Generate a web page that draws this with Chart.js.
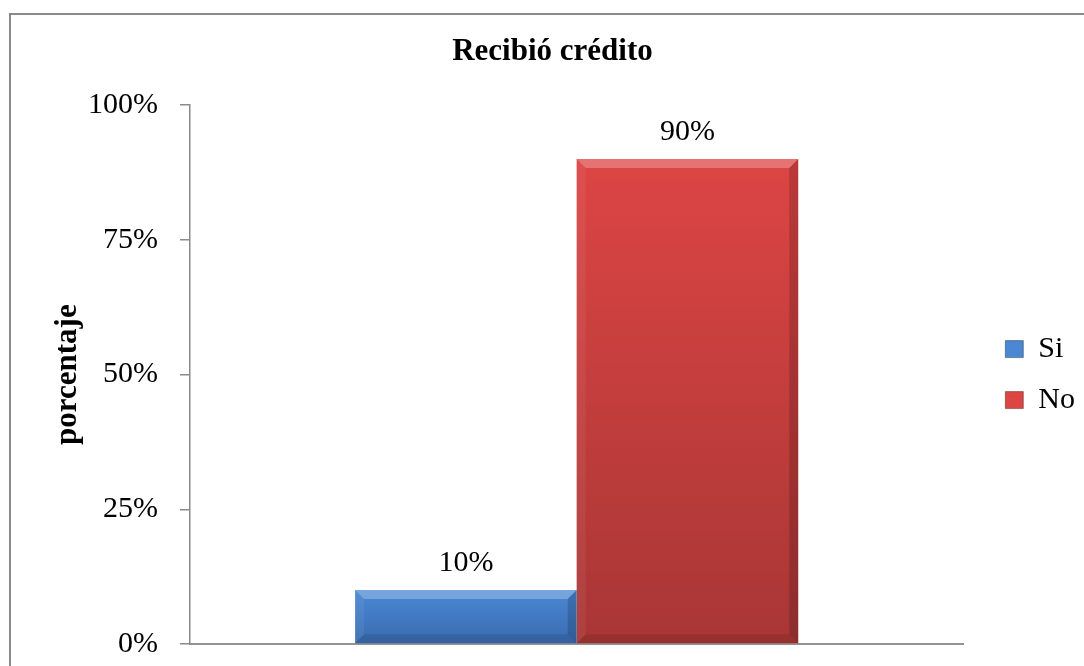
<!DOCTYPE html>
<html>
<head>
<meta charset="utf-8">
<title>Recibió crédito</title>
<script src="https://cdn.jsdelivr.net/npm/chart.js@4.4.1/dist/chart.umd.min.js"></script>
<style>
  html, body { margin: 0; padding: 0; background: #fff; overflow: hidden; }
  canvas { display: block; }
</style>
</head>
<body>
<canvas id="myChart" width="1084" height="666"></canvas>
<script>
// datos del grafico
var categorias = [''];
var serieSi = [10];
var serieNo = [90];
var nombresSeries = ['Si', 'No'];
var ticksY = [0, 25, 50, 75, 100];

// colores (arriba / abajo del degradado)
var colorSi = ['#4a88d4', '#3a6bb0'];
var colorNo = ['#dc4544', '#a83635'];
var FONT = '"Liberation Serif", "Times New Roman", serif';

function degradado(colores) {
    return function (context) {
        var chart = context.chart;
        var y = chart.scales.y;
        if (!y || !chart.chartArea || context.parsed == null) return colores[0];
        var top = y.getPixelForValue(context.parsed.y);
        var bottom = y.getPixelForValue(0);
        var g = chart.ctx.createLinearGradient(0, top, 0, bottom);
        g.addColorStop(0, colores[0]);
        g.addColorStop(1, colores[1]);
        return g;
    };
}

// marco exterior gris
var marco = {
    id: 'marco',
    beforeDraw: function (chart) {
        var ctx = chart.ctx;
        ctx.save();
        ctx.fillStyle = '#fff';
        ctx.fillRect(0, 0, chart.width, chart.height);
        ctx.strokeStyle = '#8a8a8a';
        ctx.lineWidth = 2;
        ctx.beginPath();
        ctx.moveTo(10, chart.height);
        ctx.lineTo(10, 14);
        ctx.lineTo(chart.width, 14);
        ctx.stroke();
        ctx.restore();
    }
};

// bisel y etiquetas de valor sobre las barras
var biselEtiquetas = {
    id: 'biselEtiquetas',
    afterDatasetsDraw: function (chart) {
        var ctx = chart.ctx;
        chart.data.datasets.forEach(function (ds, i) {
            var meta = chart.getDatasetMeta(i);
            meta.data.forEach(function (bar, j) {
                var l = bar.x - bar.width / 2, r = bar.x + bar.width / 2;
                var t = bar.y, b = bar.base;
                var d = Math.min(9, (b - t) / 3);
                ctx.save();
                ctx.fillStyle = 'rgba(255,255,255,0.25)';
                ctx.beginPath();
                ctx.moveTo(l, t); ctx.lineTo(r, t); ctx.lineTo(r - d, t + d); ctx.lineTo(l + d, t + d);
                ctx.closePath(); ctx.fill();
                ctx.fillStyle = 'rgba(255,255,255,0.06)';
                ctx.beginPath();
                ctx.moveTo(l, t); ctx.lineTo(l + d, t + d); ctx.lineTo(l + d, b - d); ctx.lineTo(l, b);
                ctx.closePath(); ctx.fill();
                ctx.fillStyle = 'rgba(0,0,0,0.16)';
                ctx.beginPath();
                ctx.moveTo(r, t); ctx.lineTo(r - d, t + d); ctx.lineTo(r - d, b - d); ctx.lineTo(r, b);
                ctx.closePath(); ctx.fill();
                ctx.fillStyle = 'rgba(0,0,0,0.10)';
                ctx.beginPath();
                ctx.moveTo(l, b); ctx.lineTo(l + d, b - d); ctx.lineTo(r - d, b - d); ctx.lineTo(r, b);
                ctx.closePath(); ctx.fill();
                // etiqueta
                ctx.fillStyle = '#000';
                ctx.font = '30px ' + FONT;
                ctx.textAlign = 'center';
                ctx.textBaseline = 'middle';
                ctx.fillText(ds.data[j] + '%', bar.x, t - 27);
                ctx.restore();
            });
        });
    }
};

Chart.defaults.color = '#000';
Chart.defaults.font.family = FONT;

var ctx = document.getElementById('myChart').getContext('2d');
var myChart = new Chart(ctx, {
    type: 'bar',
    data: {
        labels: categorias,
        datasets: [{
            label: nombresSeries[0],
            data: serieSi,
            backgroundColor: degradado(colorSi),
            borderWidth: 0
        }, {
            label: nombresSeries[1],
            data: serieNo,
            backgroundColor: degradado(colorNo),
            borderWidth: 0
        }]
    },
    options: {
        responsive: false,
        animation: false,
        devicePixelRatio: 1,
        layout: { padding: { left: 20, right: -1, top: 0, bottom: 0 } },
        datasets: {
            bar: { categoryPercentage: 0.573, barPercentage: 1 }
        },
        plugins: {
            title: {
                display: true,
                text: 'Recibió crédito',
                font: { size: 31, weight: 'bold', family: FONT },
                color: '#000',
                padding: { top: 33, bottom: 35 }
            },
            legend: {
                position: 'right',
                fullSize: false,
                labels: {
                    font: { size: 30, family: FONT },
                    boxWidth: 18,
                    boxHeight: 17,
                    padding: 21,
                    generateLabels: function (chart) {
                        var items = Chart.defaults.plugins.legend.labels.generateLabels(chart);
                        var cols = [colorSi[0], colorNo[0]];
                        items.forEach(function (it, i) {
                            it.fillStyle = cols[i];
                            it.strokeStyle = 'rgba(0,0,0,0.35)';
                            it.lineWidth = 1;
                        });
                        return items;
                    }
                }
            },
            tooltip: { enabled: false }
        },
        scales: {
            x: {
                ticks: { display: false },
                grid: { display: false },
                border: { display: true, color: '#939393', width: 2 },
                afterFit: function (scale) { scale.height = 22; }
            },
            y: {
                min: ticksY[0],
                max: ticksY[ticksY.length - 1],
                afterBuildTicks: function (scale) {
                    scale.ticks = ticksY.map(function (v) { return { value: v }; });
                },
                ticks: {
                    font: { size: 30, family: FONT },
                    color: '#000',
                    padding: 22,
                    callback: function (v) { return v + '%'; }
                },
                grid: {
                    drawOnChartArea: false,
                    drawTicks: true,
                    tickLength: 10,
                    color: '#8a8a8a',
                    lineWidth: 1.5
                },
                border: { display: true, color: '#8a8a8a', width: 1.5 },
                title: {
                    display: true,
                    text: 'porcentaje',
                    font: { size: 31, weight: 'bold', family: FONT },
                    color: '#000',
                    padding: { top: 29, bottom: 0 }
                },
                afterFit: function (scale) {
                    scale.width = 170;
                    scale.paddingTop = 18;
                    scale.paddingBottom = 18;
                }
            },
            espacio: {
                position: 'right',
                display: true,
                ticks: { display: false },
                grid: { display: false },
                border: { display: false },
                afterFit: function (scale) {
                    scale.width = 21;
                    scale.paddingTop = 0;
                    scale.paddingBottom = 0;
                }
            }
        }
    },
    plugins: [marco, biselEtiquetas]
});
</script>
</body>
</html>
